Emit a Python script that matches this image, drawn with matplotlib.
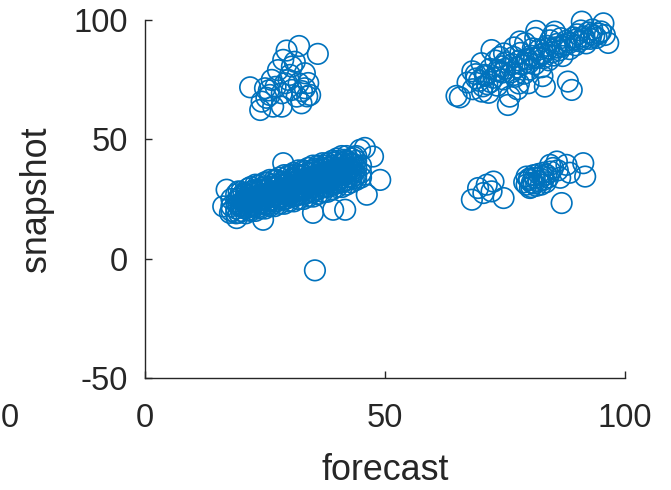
import matplotlib
matplotlib.use("Agg")
import matplotlib.pyplot as plt

plt.rcParams["axes.unicode_minus"] = False

# ---- data ----
# cluster: upper-left small group
ul_x = [21.9, 32.1, 36.0, 29.5, 31.2, 28.8, 33.3, 26.4, 25.0, 24.3, 24.0, 26.7, 32.6, 33.3,
        30.6, 28.5, 29.9, 27.7, 30.6, 34.0, 34.4, 26.0, 25.3, 31.6, 28.5, 29.2, 32.0, 32.7,
        27.2, 30.2, 33.8, 25.8]
ul_y = [71.8, 89.1, 85.8, 87.2, 82.5, 83.3, 77.7, 74.9, 71.4, 65.8, 62.3, 63.7, 65.1, 71.4,
        70.7, 69.3, 74.9, 79.0, 80.5, 73.6, 68.6, 68.6, 67.4, 67.9, 63.7, 73.5, 73.5, 70.2,
        72.0, 77.0, 68.0, 70.5]

# cluster: big lower-left band
bl_x = [18, 18, 18,
        19, 19, 19, 19,
        20, 20, 20, 20, 20,
        21, 21, 21, 21, 21,
        22, 22, 22, 22, 22, 22,
        23, 23, 23, 23, 23, 23,
        24, 24, 24, 24, 24, 24,
        25, 25, 25, 25, 25, 25,
        26, 26, 26, 26, 26, 26,
        27, 27, 27, 27, 27, 27,
        28, 28, 28, 28, 28, 28,
        29, 29, 29, 29, 29, 29,
        30, 30, 30, 30, 30, 30,
        31, 31, 31, 31, 31, 31, 31,
        32, 32, 32, 32, 32, 32, 32,
        33, 33, 33, 33, 33, 33, 33,
        34, 34, 34, 34, 34, 34, 34,
        35, 35, 35, 35, 35, 35, 35,
        36, 36, 36, 36, 36, 36, 36,
        37, 37, 37, 37, 37, 37, 37,
        38, 38, 38, 38, 38, 38, 38,
        39, 39, 39, 39, 39, 39, 39,
        40, 40, 40, 40, 40, 40, 40,
        41, 41, 41, 41, 41, 41, 41,
        42, 42, 42, 42, 42, 42, 42,
        43, 43, 43, 43, 43, 43,
        44, 44, 44, 44, 44,
        45, 45, 45,
        # outer circles
        17.0, 16.3, 17.7, 19.1, 24.6, 28.8, 35.0, 39.2, 41.7, 47.5, 49.0, 46.2, 44.8, 45.8,
        35.4,
        # filler
        20.5, 22.5, 24.5, 26.5, 28.5, 30.5, 32.5, 34.5, 36.5, 38.5, 40.5, 42.5,
        21.5, 23.5, 25.5, 27.5, 29.5, 31.5, 33.5, 35.5, 37.5, 39.5, 41.5, 43.5,
        19.5, 19.5, 19.5, 19.5, 21.5, 21.5, 21.5, 21.5, 23.5, 23.5, 23.5, 23.5,
        25.5, 25.5, 25.5, 25.5, 27.5, 27.5, 27.5, 27.5, 29.5, 29.5, 29.5, 29.5,
        31.5, 31.5, 31.5, 31.5, 33.5, 33.5, 33.5, 33.5, 35.5, 35.5, 35.5, 35.5,
        37.5, 37.5, 37.5, 37.5, 39.5, 39.5, 39.5, 39.5, 41.5, 41.5, 41.5, 41.5,
        43.5, 43.5, 43.5, 43.5,
        20.5, 20.5, 20.5, 22.5, 22.5, 22.5, 24.5, 24.5, 24.5, 26.5, 26.5, 26.5,
        28.5, 28.5, 28.5, 30.5, 30.5, 30.5, 32.5, 32.5, 32.5, 34.5, 34.5, 34.5,
        36.5, 36.5, 36.5, 38.5, 38.5, 38.5, 40.5, 40.5, 40.5, 42.5, 42.5, 42.5]
bl_y = [22, 25, 20,
        21, 24, 27, 19,
        20, 23, 26, 22, 28,
        21, 24, 27, 19, 25,
        22, 25, 28, 20, 24, 30,
        22, 25, 28, 20, 26, 31,
        23, 26, 29, 21, 27, 31,
        23, 26, 29, 21, 25, 32,
        24, 27, 30, 22, 28, 33,
        24, 27, 30, 22, 26, 33,
        25, 28, 31, 23, 29, 34,
        25, 28, 31, 23, 27, 35,
        26, 29, 32, 24, 30, 35,
        26, 29, 32, 24, 28, 36, 34,
        27, 30, 33, 25, 31, 37, 35,
        27, 30, 33, 25, 29, 37, 35,
        28, 31, 34, 26, 32, 38, 36,
        28, 31, 34, 26, 30, 39, 37,
        29, 32, 35, 27, 33, 39, 37,
        30, 33, 36, 28, 34, 40, 38,
        30, 33, 36, 28, 32, 40, 38,
        31, 34, 37, 29, 35, 41, 39,
        32, 35, 38, 30, 36, 41, 42,
        32, 35, 38, 30, 34, 40, 43,
        33, 36, 39, 31, 37, 41, 43,
        34, 37, 40, 32, 38, 42,
        35, 38, 41, 33, 43,
        36, 39, 34,
        28.9, 21.9, 19.2, 17.0, 16.3, 40.0, 19.2, 20.5, 20.5, 42.8, 33.0, 26.8, 45.6, 46.4,
        -4.9,
        24.0, 25.5, 27.0, 28.0, 29.5, 31.0, 32.0, 33.5, 34.5, 36.0, 37.0, 38.0,
        21.5, 23.0, 24.0, 25.5, 27.0, 28.5, 29.5, 31.0, 32.0, 33.5, 35.0, 36.0,
        19.2, 22.2, 25.2, 28.2, 20.4, 23.4, 26.4, 29.4, 21.6, 24.6, 27.6, 30.6,
        22.8, 25.8, 28.8, 31.8, 24.0, 27.0, 30.0, 33.0, 25.2, 28.2, 31.2, 34.2,
        26.4, 29.4, 32.4, 35.4, 27.6, 30.6, 33.6, 36.6, 28.8, 31.8, 34.8, 37.8,
        30.0, 33.0, 36.0, 39.0, 31.2, 34.2, 37.2, 40.2, 32.4, 35.4, 38.4, 41.4,
        33.6, 36.6, 39.6, 42.6,
        21.3, 24.3, 27.3, 22.5, 25.5, 28.5, 23.7, 26.7, 29.7, 24.9, 27.9, 30.9,
        26.1, 29.1, 32.1, 27.3, 30.3, 33.3, 28.5, 31.5, 34.5, 29.7, 32.7, 35.7,
        30.9, 33.9, 36.9, 32.1, 35.1, 38.1, 33.3, 36.3, 39.3, 34.5, 37.5, 40.5]

# cluster: upper-right band
ur_x = [64.9, 65.6, 67.2, 68.3, 68.9, 69.6, 70.1, 70.4, 70.8, 71.3, 71.9, 72.2, 72.6,
        73.0, 73.4, 73.8, 74.3, 74.7, 75.1, 75.6, 76.0, 76.2, 76.8, 77.1, 77.5, 77.9,
        78.2, 78.6, 79.0, 79.2, 79.7, 80.1, 80.4, 80.8, 81.2, 81.5, 81.9, 82.2, 82.6,
        83.0, 83.3, 83.7, 84.1, 84.4, 84.8, 85.2, 85.4, 85.9, 86.3, 86.6, 87.0, 87.4,
        87.8, 88.1, 88.5, 88.9, 89.3, 89.7, 90.1, 90.5, 90.8, 91.0, 91.4, 91.9, 92.3,
        92.8, 93.2, 93.6, 94.1, 94.6, 95.0, 95.5, 95.8, 96.5,
        69.0, 71.0, 73.5, 75.0, 76.5, 78.0, 79.5, 81.0, 82.5, 84.0, 85.5, 87.0, 88.5,
        90.0, 91.5, 93.0, 80.0, 83.0, 86.0, 77.0, 74.5, 72.0,
        70.2, 73.9, 77.6, 79.9, 74.8, 68.2, 71.6, 78.1, 81.3, 84.9, 76.9, 82.8]
ur_y = [68.2, 67.6, 73.8, 71.0, 77.3, 74.5, 81.9, 72.2, 77.0, 73.1, 79.5, 87.4, 75.8,
        83.0, 72.5, 78.4, 80.6, 75.1, 82.3, 64.4, 67.9, 78.0, 84.5, 76.2, 80.1, 73.4,
        86.2, 81.3, 77.5, 90.3, 83.6, 79.2, 85.0, 88.1, 81.4, 95.4, 84.3, 87.7, 80.2,
        86.0, 72.1, 89.2, 83.1, 91.5, 86.4, 85.1, 95.1, 90.0, 87.3, 92.4, 84.9, 89.6,
        91.3, 74.2, 87.8, 70.7, 92.7, 89.4, 94.0, 91.1, 95.6, 99.3, 93.0, 90.2, 94.8,
        92.1, 96.0, 93.4, 92.5, 94.3, 95.2, 98.6, 93.7, 90.4,
        75.5, 76.5, 79.0, 79.5, 81.5, 83.0, 83.5, 84.0, 85.5, 88.0, 88.5, 89.0, 90.5,
        92.0, 92.0, 94.0, 82.0, 84.0, 88.5, 77.0, 78.0, 74.0,
        70.0, 84.5, 71.0, 73.5, 86.0, 78.5, 69.5, 91.0, 92.5, 93.5, 88.5, 76.5]

# cluster: lower-right group
lr_x = [68.1, 69.4, 71.2, 72.2, 74.7, 72.6, 70.5, 86.8, 91.3, 91.7, 85.8, 87.8, 84.4,
        79.5, 80.2, 86.5, 88.5,
        79.0, 80.0, 81.0, 82.0, 83.0, 84.0, 80.5, 81.5, 82.5, 83.5, 79.5, 81.0, 82.0,
        83.0, 80.0, 84.5, 85.0, 86.0, 81.2, 82.8, 80.6, 83.6]
lr_y = [24.7, 29.6, 31.0, 28.2, 25.4, 32.3, 27.5, 23.3, 40.0, 34.4, 40.7, 39.3, 39.3,
        34.4, 29.6, 33.9, 36.0,
        32.0, 33.0, 31.5, 32.5, 33.0, 34.0, 30.0, 30.5, 31.0, 32.0, 31.0, 35.0, 35.5,
        36.0, 33.5, 36.5, 38.0, 37.0, 33.8, 34.6, 31.8, 35.2]

x_ticks = [0, 50, 100]
y_ticks = [-50, 0, 50, 100]

# ---- figure ----
W, H = 671, 490
fig = plt.figure(figsize=(W / 100, H / 100), dpi=100)
ax = fig.add_axes([145 / W, (H - 378) / H, 480 / W, 358 / H])

blue = "#0072BD"
dark = "#262626"
ms = 14.8
for xs, ys in [(ul_x, ul_y), (bl_x, bl_y), (ur_x, ur_y), (lr_x, lr_y)]:
    ax.scatter(xs, ys, s=ms ** 2, facecolors="none", edgecolors=blue,
               linewidths=1.2, clip_on=False, zorder=3)

ax.set_xlim(0, 100)
ax.set_ylim(-50, 100)
ax.set_xticks(x_ticks)
ax.set_yticks(y_ticks)

font = "Liberation Sans"
for s in ["top", "right"]:
    ax.spines[s].set_visible(False)
for s in ["left", "bottom"]:
    ax.spines[s].set_color(dark)
    ax.spines[s].set_linewidth(1.0)

ax.tick_params(direction="in", length=5, width=1.0, colors=dark,
               labelsize=23.5)
ax.tick_params(axis="x", pad=18)
ax.tick_params(axis="y", pad=12)
for lab in ax.get_xticklabels() + ax.get_yticklabels():
    lab.set_fontfamily(font)
    lab.set_color(dark)

ax.set_xlabel("forecast", fontsize=25.8, fontfamily=font, color=dark, labelpad=14)
ax.set_ylabel("snapshot", fontsize=25.8, fontfamily=font, color=dark, labelpad=14)

# stray label at the far left edge (kept fully inside the canvas)
fig.text(1 / W, (H - 418) / H, "0", fontsize=23.5, fontfamily=font, color=dark,
         ha="left", va="center")

fig.savefig("out.png", dpi=100)
